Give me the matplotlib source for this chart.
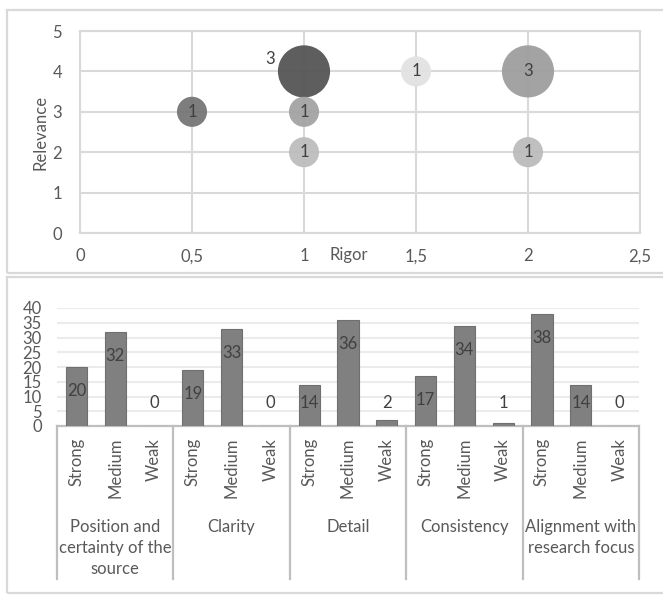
import matplotlib.pyplot as plt
from matplotlib.patches import Rectangle

plt.rcParams["font.family"] = ["Lato", "DejaVu Sans"]

# bubble chart data
rigor = [0.5, 1, 1, 1, 1.5, 2, 2]
relevance = [3, 4, 3, 2, 4, 4, 2]
counts = [1, 3, 1, 1, 1, 3, 1]
bubble_colors = ["#767676", "#555555", "#a3a3a3", "#bdbdbd", "#e2e2e2", "#9e9e9e", "#bcbcbc"]
x_ticks = [0, 0.5, 1, 1.5, 2, 2.5]
x_tick_labels = ["0", "0,5", "1", "1,5", "2", "2,5"]

# bar chart data
criteria = ["Position and\ncertainty of the\nsource", "Clarity", "Detail",
            "Consistency", "Alignment with\nresearch focus"]
levels = ["Strong", "Medium", "Weak"]
scores = [
    [20, 32, 0],
    [19, 33, 0],
    [14, 36, 2],
    [17, 34, 1],
    [38, 14, 0],
]

text_color = "#595959"
fs = 12
W, H = 663, 596

fig = plt.figure(figsize=(W / 100, H / 100), dpi=100)


def fx(px):
    return px / W


def fy(py):
    return 1 - py / H


# panel frames
for (x0, y0, x1, y1) in [(7, 10, 680, 273), (7, 277, 680, 593)]:
    fig.patches.append(Rectangle((fx(x0), fy(y1)), fx(x1 - x0), (y1 - y0) / H,
                                 transform=fig.transFigure, fill=False,
                                 edgecolor="#d9d9d9", linewidth=1.6))

# ---- top: bubble chart ----
ax1 = fig.add_axes([fx(80), fy(233), fx(640 - 80), (233 - 31) / H])
ax1.set_xlim(0, 2.5)
ax1.set_ylim(0, 5)
ax1.set_xticks(x_ticks)
ax1.set_xticklabels(x_tick_labels)
ax1.set_yticks(range(6))
ax1.grid(True, color="#d9d9d9", linewidth=1.5)
ax1.set_axisbelow(True)
for s in ax1.spines.values():
    s.set_color("#d9d9d9")
    s.set_linewidth(1.5)
ax1.tick_params(length=0, labelsize=fs, labelcolor=text_color)
ax1.tick_params(axis="x", pad=11)
ax1.tick_params(axis="y", pad=13)

# bubbles, area proportional to count
ax1.scatter(rigor, relevance, s=[c * 470 for c in counts], c=bubble_colors,
            alpha=0.95, linewidths=0, zorder=3)
for x, y, c in zip(rigor, relevance, counts):
    if x == 1 and y == 4:
        ax1.text(x - 0.15, y + 0.3, str(c), ha="center", va="center",
                 fontsize=fs, color="#404040", zorder=4)
    else:
        ax1.text(x, y, str(c), ha="center", va="center",
                 fontsize=fs, color="#404040", zorder=4)

ax1.set_ylabel("Relevance", fontsize=fs, color=text_color, labelpad=3)
ax1.text(1.2, -0.55, "Rigor", transform=ax1.transData, ha="center", va="center",
         fontsize=fs, color=text_color)

# ---- bottom: bar chart ----
ax2 = fig.add_axes([fx(57), fy(426), fx(639 - 57), (426 - 308) / H])
n = len(criteria) * len(levels)
positions = list(range(n))
values = [v for row in scores for v in row]
ax2.bar(positions, values, width=0.55, color="#808080", edgecolor="#6f6f6f",
        linewidth=0.8, zorder=3)
ax2.set_xlim(-0.5, n - 0.5)
ax2.set_ylim(0, 40)
ax2.set_yticks(range(0, 41, 5))
ax2.set_xticks([])
ax2.yaxis.grid(True, color="#ebebeb", linewidth=1.5)
ax2.set_axisbelow(True)
for side in ["top", "right", "left"]:
    ax2.spines[side].set_visible(False)
ax2.spines["bottom"].set_color("#bfbfbf")
ax2.spines["bottom"].set_linewidth(1.6)
ax2.tick_params(length=0, labelsize=fs, labelcolor=text_color, pad=11)

# value labels sit inside the bar top, but not lower than a floor
for p, v in zip(positions, values):
    ax2.text(p, max(v - 8.2, 7.8), str(v), ha="center", va="center",
             fontsize=fs, color="#404040", zorder=4)

# two-level category axis
tr = ax2.get_xaxis_transform()
for p, lvl in zip(positions, levels * len(criteria)):
    ax2.text(p, -0.1, lvl, transform=tr, rotation=90, ha="center", va="top",
             fontsize=fs, color=text_color)

sep_bottom = -(579 - 426) / 118
for g in range(len(criteria) + 1):
    xg = g * len(levels) - 0.5
    ax2.plot([xg, xg], [0, sep_bottom], transform=tr, color="#bfbfbf",
             linewidth=1.6, clip_on=False)
for g, name in enumerate(criteria):
    ax2.text(g * len(levels) + 1, -(519 - 426) / 118, name, transform=tr,
             ha="center", va="top", fontsize=fs, color=text_color,
             linespacing=1.4)

fig.savefig("out.png", dpi=100)
